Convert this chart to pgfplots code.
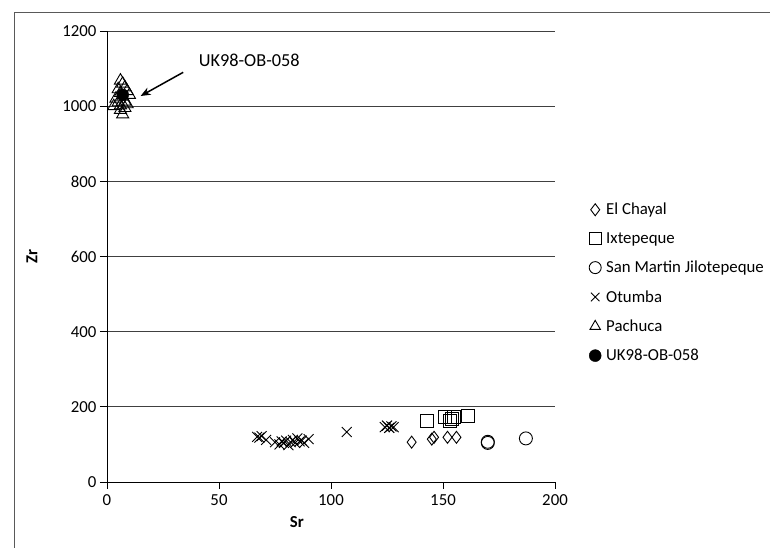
\documentclass[border=0pt]{standalone}
\usepackage{fontspec}
\setmainfont{Carlito}
\usepackage{pgfplots}
\pgfplotsset{compat=1.18}
\usetikzlibrary{arrows.meta}
\begin{document}
\begin{tikzpicture}[x=1pt,y=1pt]
\useasboundingbox (0,0) rectangle (770,548);
\draw[gray!70!black, line width=1pt] (14,0) -- (14,535) -- (770,535);
\begin{axis}[
  at={(107pt,66pt)}, anchor=origin,
  scale only axis, width=448pt, height=451pt,
  xmin=0, xmax=200, ymin=0, ymax=1200,
  xtick={0,50,...,200}, ytick={0,200,...,1200},
  axis x line*=bottom, axis y line*=left,
  axis line style={black, line width=0.8pt, -},
  tick style={black, line width=0.8pt},
  tick align=outside, major tick length=7pt,
  ymajorgrids, grid style={black!75, line width=0.8pt},
  font=\fontsize{16.8}{19}\selectfont,
  /pgf/number format/assume math mode=true,
  /pgf/number format/set thousands separator={},
  xlabel={\textbf{Sr}}, ylabel={\textbf{Zr}},
  xlabel style={at={(axis description cs:0.424,0)}, anchor=north, yshift=-31pt},
  ylabel style={at={(axis description cs:0,0.5)}, yshift=66pt},
  xticklabel style={yshift=-2pt},
  legend style={at={(479pt,283pt)}, anchor=north west, draw=none, fill=none,
    font=\fontsize{16.8}{19}\selectfont, row sep=12.2pt,
    /tikz/every odd column/.append style={column sep=3pt},
    /tikz/every even column/.append style={column sep=0pt}},
  legend cell align=left,
  legend image code/.code={\draw[mark repeat=2,mark phase=2,mark size=6pt] plot coordinates {(0pt,0pt) (3pt,0pt) (6pt,0pt)};},
  clip=false,
]
\addplot[only marks, mark=diamond, mark size=6pt, black, line width=0.9pt] coordinates {
(136,106) (145,114) (146,119) (152,119) (156,119)};
\addlegendentry{El Chayal}
\addplot[only marks, mark=square, mark size=6.5pt, black, line width=0.9pt] coordinates {
(143,162) (151,173) (153,162) (155,173) (161,176) (154,168)};
\addlegendentry{Ixtepeque}
\addplot[only marks, mark=o, mark size=6.5pt, black, line width=0.9pt] coordinates {
(170,104) (170,107) (187,116)};
\addlegendentry{San Martin Jilotepeque}
\addplot[only marks, mark=x, mark size=7pt, black, line width=0.9pt] coordinates {
(67,120) (68,118) (69,122) (71,112) (75,106) (77,100) (78,108) (79,104) (80,110) (81,98) (82,106) (83,112) (84,104) (85,116) (86,108) (87,110) (88,104) (90,114)
(107,133) (124,146) (125,150) (126,144) (127,148) (128,146)};
\addlegendentry{Otumba}
\addplot[only marks, mark=triangle, mark size=7pt, black, line width=0.9pt] coordinates {
(6,1068) (7,1060) (5,1045) (8,1050) (6,1035) (9,1040) (4,1020) (7,1025) (10,1030) (5,1010) (8,1012) (3,1000) (6,1002) (9,1005) (7,978) (6,990) (8,995)};
\addlegendentry{Pachuca}
\addplot[only marks, mark=*, mark size=6pt, black] coordinates {(7,1030)};
\addlegendentry{UK98-OB-058}
\draw[-{Stealth[length=10pt,width=8pt]}, line width=1.5pt] (axis cs:34,1090) -- (axis cs:15,1027);
\node[font=\fontsize{18.3}{20}\selectfont] at (axis cs:63.5,1122) {UK98-OB-058};
\end{axis}
\end{tikzpicture}
\end{document}
